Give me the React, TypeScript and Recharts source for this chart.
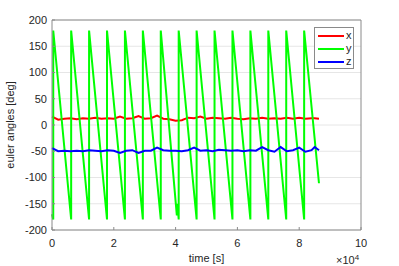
import React from "react";
import {
  LineChart,
  Line,
  XAxis,
  YAxis,
  CartesianGrid,
  Legend,
} from "recharts";

// time in units of 1e4 s
const times = [
  0, 0.2, 0.4, 0.6, 0.8, 1.0, 1.2, 1.4, 1.6, 1.8, 2.0, 2.2, 2.4, 2.6, 2.8,
  3.0, 3.2, 3.4, 3.6, 3.8, 4.0, 4.2, 4.4, 4.6, 4.8, 5.0, 5.2, 5.4, 5.6, 5.8,
  6.0, 6.2, 6.4, 6.6, 6.8, 7.0, 7.2, 7.4, 7.6, 7.8, 8.0, 8.2, 8.4, 8.5, 8.64,
];

const xAngles = [
  16, 10, 12, 13, 11, 13, 12, 14, 12, 13, 12, 16, 12, 13, 17,
  12, 13, 18, 12, 11, 8, 9, 14, 13, 16, 12, 14, 13, 12, 14,
  12, 11, 13, 12, 14, 12, 13, 12, 14, 12, 14, 12, 13, 13, 12,
];

const zAngles = [
  -44, -50, -49, -50, -49, -50, -48, -49, -50, -48, -49, -53, -49, -48, -53,
  -49, -49, -43, -48, -49, -49, -50, -48, -43, -49, -48, -50, -47, -48, -49,
  -48, -50, -48, -49, -42, -48, -51, -42, -50, -48, -43, -51, -48, -42, -48,
];

// yaw wraps between +180 and -180
const yTimes = [
  0, 0.04, 0.04, 0.62, 0.62, 1.2, 1.2, 1.78, 1.78, 2.36, 2.36, 2.94, 2.94,
  3.52, 3.52, 4.04, 4.06, 4.1, 4.1, 4.68, 4.68, 5.26, 5.26, 5.84, 5.84, 6.42,
  6.42, 7.0, 7.0, 7.58, 7.58, 8.16, 8.16, 8.64,
];
const yAngles = [
  -170, -180, 180, -180, 180, -180, 180, -180, 180, -180, 180, -180, 180,
  -180, 180, -172, -150, -180, 180, -180, 180, -180, 180, -180, 180, -180,
  180, -180, 180, -180, 180, -180, 180, -111,
];

const xTicks = [0, 2, 4, 6, 8, 10];
const yTicks = [-200, -150, -100, -50, 0, 50, 100, 150, 200];

const xzData = times.map((t, i) => ({ t, x: xAngles[i], z: zAngles[i] }));
const yData = yTimes.map((t, i) => ({ t, y: yAngles[i] }));

const FONT = "'Liberation Sans', Arial, sans-serif";
const TEXT = "#262626";
const BOX = "#8a8a8a";

const LegendBox = ({ payload }: any) => (
  <div
    style={{
      width: 38,
      height: 39,
      border: `1px solid ${BOX}`,
      background: "#fff",
      fontFamily: FONT,
      fontSize: 11,
      color: TEXT,
      paddingTop: 1,
      boxSizing: "content-box",
    }}
  >
    {(payload || []).map((p: any) => (
      <div
        key={p.value}
        style={{ display: "flex", alignItems: "center", height: 13 }}
      >
        <span
          style={{
            display: "inline-block",
            width: 26,
            height: 2,
            marginLeft: 3,
            marginRight: 2,
            background: p.color,
          }}
        />
        <span style={{ lineHeight: "13px" }}>{p.value}</span>
      </div>
    ))}
  </div>
);

export default function App() {
  return (
    <div style={{ position: "absolute", left: 0, top: 0, width: 399, height: 266, background: "#fff" }}>
      <LineChart
        width={399}
        height={266}
        data={xzData}
        margin={{ top: 20, right: 38, bottom: 0, left: 0 }}
      >
        <CartesianGrid
          vertical={false}
          stroke="#e6e6e6"
          horizontalValues={yTicks}
        />
        <XAxis
          dataKey="t"
          type="number"
          domain={[0, 10]}
          ticks={xTicks}
          height={36}
          stroke={BOX}
          tickSize={-3}
          tickMargin={12}
          tick={{ fill: TEXT, fontSize: 11, fontFamily: FONT }}
          label={{
            value: "time [s]",
            position: "insideBottom",
            offset: 4,
            fill: TEXT,
            fontSize: 11,
            fontFamily: FONT,
          }}
        />
        <XAxis
          xAxisId="top"
          orientation="top"
          type="number"
          domain={[0, 10]}
          ticks={xTicks}
          mirror
          tick={false}
          tickSize={3}
          stroke={BOX}
        />
        <YAxis
          type="number"
          domain={[-200, 200]}
          ticks={yTicks}
          width={52}
          stroke={BOX}
          tickSize={-3}
          tickMargin={8}
          tick={{ fill: TEXT, fontSize: 11, fontFamily: FONT }}
          label={{
            value: "euler angles [deg]",
            angle: -90,
            position: "insideLeft",
            offset: 10,
            fill: TEXT,
            fontSize: 11,
            fontFamily: FONT,
            style: { textAnchor: "middle" },
          }}
        />
        <YAxis
          yAxisId="right"
          orientation="right"
          type="number"
          domain={[-200, 200]}
          ticks={yTicks}
          mirror
          tick={false}
          tickSize={3}
          stroke={BOX}
        />
        <Legend
          layout="vertical"
          align="center"
          verticalAlign="middle"
          wrapperStyle={{ left: 314, top: 27, width: 40 }}
          content={<LegendBox />}
        />
        <Line
          dataKey="x"
          name="x"
          stroke="#ff0000"
          strokeWidth={2}
          dot={false}
          isAnimationActive={false}
        />
        <Line
          data={yData}
          dataKey="y"
          name="y"
          stroke="#00ff00"
          strokeWidth={2}
          dot={false}
          isAnimationActive={false}
        />
        <Line
          dataKey="z"
          name="z"
          stroke="#0000ff"
          strokeWidth={2}
          dot={false}
          isAnimationActive={false}
        />
      </LineChart>
      <div
        style={{
          position: "absolute",
          left: 336,
          top: 252,
          fontFamily: FONT,
          fontSize: 11,
          color: TEXT,
          lineHeight: "12px",
        }}
      >
        ×10<sup style={{ fontSize: 8, verticalAlign: "4px" }}>4</sup>
      </div>
    </div>
  );
}
